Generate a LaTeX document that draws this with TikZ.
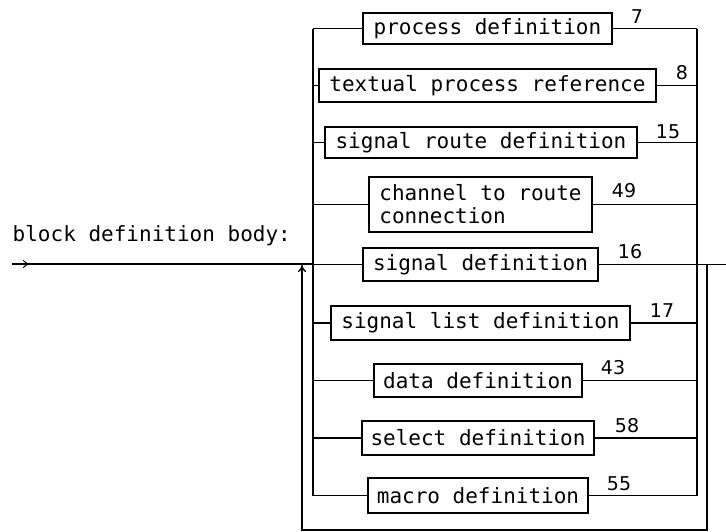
\documentclass[tikz,border=0pt]{standalone}
\usepackage{fontspec}
\newfontfamily\plotfont{DejaVu Sans Mono}
\newfontfamily\numfont{DejaVu Sans}
\usetikzlibrary{arrows.meta}
\begin{document}
\begin{tikzpicture}[x=1pt,y=-1pt,line width=1.4pt,
  defbox/.style={draw,line width=1.2pt,inner sep=0pt,align=left,
    font=\plotfont\fontsize{21}{23}\selectfont},
  num/.style={font=\numfont\fontsize{19}{21}\selectfont,inner sep=0pt},
  lbl/.style={font=\plotfont\fontsize{21}{23}\selectfont,anchor=west,inner sep=0pt},
  tip/.style={-{To[length=7pt,width=8pt]}}]
\useasboundingbox (0,0) rectangle (726,531);
% boxes
\node[defbox,minimum width=249pt,minimum height=31pt] (b1) at (487.5,28.5) {process definition};
\node[defbox,minimum width=337pt,minimum height=33pt] (b2) at (487.5,85.5) {textual process reference};
\node[defbox,minimum width=312pt,minimum height=31pt] (b3) at (481,142.5) {signal route definition};
\node[defbox,minimum width=223pt,minimum height=55pt] (b4) at (480.5,204.5) {channel to route\\connection};
\node[defbox,minimum width=235pt,minimum height=33pt] (b5) at (480.5,264.5) {signal definition};
\node[defbox,minimum width=299pt,minimum height=34pt] (b6) at (480.5,323) {signal list definition};
\node[defbox,minimum width=208pt,minimum height=33pt] (b7) at (478,380.5) {data definition};
\node[defbox,minimum width=232pt,minimum height=34pt] (b8) at (478,438) {select definition};
\node[defbox,minimum width=220pt,minimum height=35pt] (b9) at (478,495.5) {macro definition};
% numbers
\node[num] (n1) at (637,17) {7};
\node[num] (n2) at (682,73) {8};
\node[num] (n3) at (668,132) {15};
\node[num] (n4) at (624,191) {49};
\node[num] (n5) at (630,252) {16};
\node[num] (n6) at (662,311) {17};
\node[num] (n7) at (613,368) {43};
\node[num] (n8) at (627,426) {58};
\node[num] (n9) at (619,484) {55};
% label
\node[lbl] (title) at (12,236) {block definition body:};
% bars
\coordinate (Ltop) at (313,28.5);
\coordinate (Lbot) at (313,495.5);
\coordinate (Rtop) at (697,28.5);
\coordinate (Rbot) at (697,495.5);
\draw (Ltop) -- (Lbot);
\draw (Rtop) -- (Rbot);
\foreach \b in {b1,b2,b3,b4,b5,b6,b7,b8,b9}{
  \draw (Ltop |- \b.west) -- (\b.west);
  \draw (\b.east) -- (Rtop |- \b.east);
}
% main line
\coordinate (start) at (12,264);
\coordinate (tipend) at (30,264);
\coordinate (join) at (313,264);
\draw (start) -- (join);
\draw[tip,line width=1pt] (start) -- (tipend);
% exit
\coordinate (rj) at (697,264.5);
\coordinate (out) at (726,264.5);
\draw (rj) -- (out);
% loop
\coordinate (lp1) at (707,264.5);
\coordinate (lp2) at (707,530);
\coordinate (lp3) at (302,530);
\coordinate (lp4) at (302,265);
\draw[tip] (lp1) -- (lp2) -- (lp3) -- (lp4);
\end{tikzpicture}
\end{document}
